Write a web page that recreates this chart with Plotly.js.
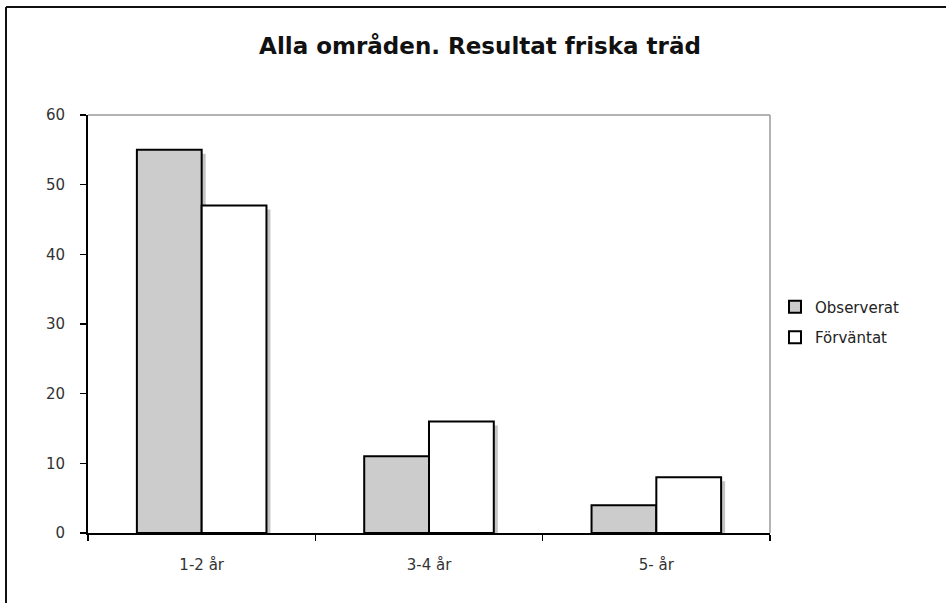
<!DOCTYPE html>
<html>
<head>
<meta charset="utf-8">
<script src="https://cdn.plot.ly/plotly-3.0.1.min.js"></script>
<style>html,body{margin:0;padding:0;background:#fff;}#chart{width:946px;height:603px;}</style>
</head>
<body>
<div id="chart"></div>
<script>
var categories = ["1-2 år", "3-4 år", "5- år"];
var observerat = [55, 11, 4];
var forvantat = [47, 16, 8];
var seriesNames = ["Observerat", "Förväntat"];
var yTicks = [0, 10, 20, 30, 40, 50, 60];

var W = 946, H = 603;
var mL = 88, mR = 176, mT = 115, mB = 70;
var pw = W - mL - mR, ph = H - mT - mB;
var yMax = 60;
var shX = 4, shY = 4;
var dx = shX * 3 / pw, dy = shY * yMax / ph;
var font = "DejaVu Sans, Verdana, sans-serif";

var barCommon = {type: "bar", hoverinfo: "skip"};
var traces = [
  Object.assign({}, barCommon, {x: categories, y: observerat, xaxis: "x", yaxis: "y", showlegend: false,
    marker: {color: "#c4c4c4", line: {width: 0}}}),
  Object.assign({}, barCommon, {x: categories, y: forvantat, xaxis: "x", yaxis: "y", showlegend: false,
    marker: {color: "#c4c4c4", line: {width: 0}}}),
  Object.assign({}, barCommon, {x: categories, y: observerat, name: seriesNames[0], xaxis: "x2", yaxis: "y2",
    legendgroup: "a", marker: {color: "#cccccc", line: {color: "#000", width: 2}}}),
  Object.assign({}, barCommon, {x: categories, y: forvantat, name: seriesNames[1], xaxis: "x2", yaxis: "y2",
    legendgroup: "b", marker: {color: "#ffffff", line: {color: "#000", width: 2}}})
];

var layout = {
  width: W, height: H,
  margin: {l: mL, r: mR, t: mT, b: mB, pad: 0},
  paper_bgcolor: "#fff", plot_bgcolor: "#fff",
  barmode: "group", bargap: 0.43, bargroupgap: 0,
  title: {text: "<b>Alla områden. Resultat friska träd</b>", font: {family: font, size: 23, color: "#111"},
    x: 480 / W, xref: "container", y: 1 - 46 / H, yref: "container", xanchor: "center", yanchor: "middle"},
  xaxis: {type: "category", range: [-0.5 - dx, 2.5 - dx], visible: false, fixedrange: true},
  yaxis: {range: [dy, yMax + dy], visible: false, fixedrange: true},
  xaxis2: {type: "category", overlaying: "x", range: [-0.5, 2.5], showline: true, linecolor: "#000", linewidth: 2,
    mirror: false, ticks: "outside", tickson: "boundaries", ticklen: 6, tickwidth: 1.5, tickcolor: "#000",
    tickfont: {family: font, size: 15, color: "#333"}, ticklabelstandoff: 17, showgrid: false, zeroline: false, fixedrange: true},
  yaxis2: {overlaying: "y", range: [0, yMax], tickvals: yTicks, showline: true, linecolor: "#000", linewidth: 2,
    ticks: "outside", ticklen: 6, tickwidth: 1.5, tickcolor: "#000", ticklabelstandoff: 12,
    tickfont: {family: font, size: 15, color: "#333"}, showgrid: false, zeroline: false, fixedrange: true},
  legend: {x: (775 - mL) / pw, y: (533 - 322) / ph, xanchor: "left", yanchor: "middle", traceorder: "grouped",
    font: {family: font, size: 15, color: "#222"}, bgcolor: "rgba(0,0,0,0)", itemwidth: 30, tracegroupgap: 8},
  shapes: [
    {type: "line", xref: "paper", yref: "paper", x0: 0, x1: 1, y0: 1, y1: 1, line: {color: "#9a9a9a", width: 1.5}},
    {type: "line", xref: "paper", yref: "paper", x0: 1, x1: 1, y0: 0, y1: 1, line: {color: "#9a9a9a", width: 1.5}},
    {type: "line", xref: "paper", yref: "paper", x0: (6 - mL) / pw, x1: (960 - mL) / pw, y0: (533 - 7) / ph, y1: (533 - 7) / ph, line: {color: "#111", width: 2}},
    {type: "line", xref: "paper", yref: "paper", x0: (6 - mL) / pw, x1: (6 - mL) / pw, y0: (533 - 7) / ph, y1: (533 - 620) / ph, line: {color: "#111", width: 2}}
  ]
};

Plotly.newPlot("chart", traces, layout, {displayModeBar: false, staticPlot: true});
</script>
</body>
</html>
